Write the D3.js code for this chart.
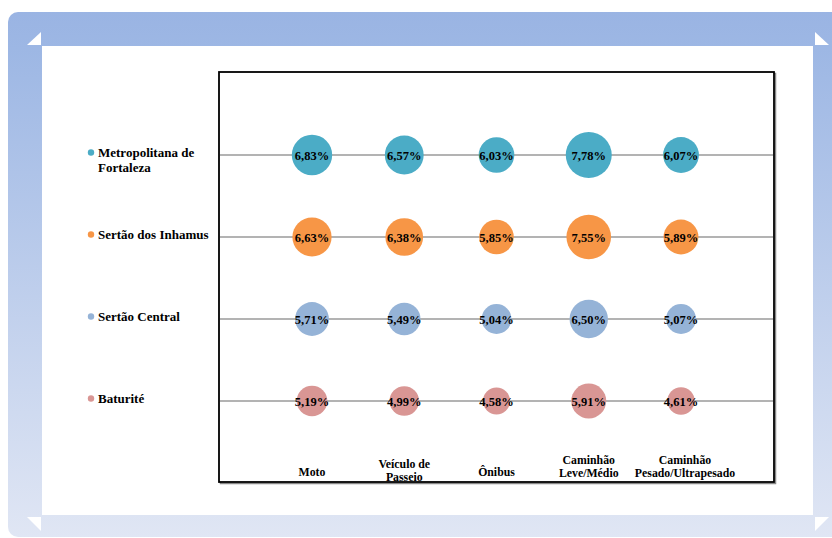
<!DOCTYPE html>
<html><head><meta charset="utf-8">
<script src="https://cdn.jsdelivr.net/npm/d3@7"></script>
<style>body{margin:0;background:#fff;}svg{display:block;} text{font-family:'Liberation Serif','Times New Roman',serif;font-weight:bold;}</style>
</head><body>
<script>
const categories = ["Moto", "Veículo de Passeio", "Ônibus", "Caminhão Leve/Médio", "Caminhão Pesado/Ultrapesado"];
const categoryLines = [["Moto"], ["Veículo de", "Passeio"], ["Ônibus"], ["Caminhão", "Leve/Médio"], ["Caminhão", "Pesado/Ultrapesado"]];
const regions = ["Metropolitana de Fortaleza", "Sertão dos Inhamus", "Sertão Central", "Baturité"];
const regionLines = [["Metropolitana de", "Fortaleza"], ["Sertão dos Inhamus"], ["Sertão Central"], ["Baturité"]];
const colors = ["#4BACC6", "#F79646", "#95B3D7", "#D99694"];
const metropolitana = [6.83, 6.57, 6.03, 7.78, 6.07];
const sertaoInhamus = [6.63, 6.38, 5.85, 7.55, 5.89];
const sertaoCentral = [5.71, 5.49, 5.04, 6.50, 5.07];
const baturite = [5.19, 4.99, 4.58, 5.91, 4.61];
const series = [metropolitana, sertaoInhamus, sertaoCentral, baturite];

const W = 832, H = 538;
const svg = d3.select("body").append("svg").attr("width", W).attr("height", H);
const defs = svg.append("defs");
const g = defs.append("linearGradient").attr("id", "band").attr("x1", 0).attr("y1", 0).attr("x2", 0).attr("y2", 1);
g.append("stop").attr("offset", 0).attr("stop-color", "#9AB4E3");
g.append("stop").attr("offset", 0.07).attr("stop-color", "#9DB7E4");
g.append("stop").attr("offset", 1).attr("stop-color", "#E0E6F4");

svg.append("rect").attr("x", 8).attr("y", 12).attr("width", 850).attr("height", 525).attr("rx", 10).attr("fill", "url(#band)");
svg.append("rect").attr("x", 42).attr("y", 46).attr("width", 771).attr("height", 469).attr("fill", "#fff");
const tris = [
  [[27,45],[41,45],[41,32]],
  [[815,32],[815,45],[829,45]],
  [[27,517],[41,517],[41,531]],
  [[815,517],[829,517],[815,531]]
];
svg.selectAll("polygon.tri").data(tris).enter().append("polygon").attr("class","tri")
  .attr("points", d => d.map(p => p.join(",")).join(" ")).attr("fill", "#fff");

const plot = {left: 219, top: 72, right: 774, bottom: 482};
const x = d3.scalePoint().domain(categories).range([312, 681]);
const y = d3.scalePoint().domain(regions).range([155, 401]);
const r = d3.scaleLinear().domain([0, 7.78]).range([0, 23]);

svg.append("rect").attr("x", plot.left + 1.5).attr("y", plot.top + 1.5).attr("width", plot.right - plot.left).attr("height", plot.bottom - plot.top)
  .attr("fill", "none").attr("stroke", "#888").attr("stroke-width", 1.5);
svg.append("rect").attr("x", plot.left).attr("y", plot.top).attr("width", plot.right - plot.left).attr("height", plot.bottom - plot.top)
  .attr("fill", "#fff").attr("stroke", "#000").attr("stroke-width", 1.8);

svg.selectAll("line.grid").data(regions).enter().append("line").attr("class", "grid")
  .attr("x1", plot.left + 1).attr("x2", plot.right - 1)
  .attr("y1", d => y(d)).attr("y2", d => y(d))
  .attr("stroke", "#9a9a9a").attr("stroke-width", 1.3);

const pts = [];
series.forEach((s, i) => s.forEach((v, j) => pts.push({region: regions[i], cat: categories[j], v, c: colors[i]})));
svg.selectAll("circle.b").data(pts).enter().append("circle").attr("class", "b")
  .attr("cx", d => x(d.cat)).attr("cy", d => y(d.region)).attr("r", d => r(d.v)).attr("fill", d => d.c);
svg.selectAll("text.lbl").data(pts).enter().append("text").attr("class", "lbl")
  .attr("x", d => x(d.cat)).attr("y", d => y(d.region) + 4.5)
  .attr("text-anchor", "middle")
  .style("font-size", "12.5px").attr("fill", "#000")
  .text(d => d.v.toFixed(2).replace(".", ",") + "%");

const leg = svg.selectAll("g.leg").data(regions).enter().append("g").attr("class", "leg");
leg.append("circle").attr("cx", 91).attr("cy", (d) => y(d) - 2.5).attr("r", 3.2).attr("fill", (d, i) => colors[i]);
leg.append("text").attr("x", 98).attr("y", d => y(d) + 1.5)
  .style("font-size", "13px").attr("fill", "#000")
  .each(function(d, i) {
    const t = d3.select(this);
    regionLines[i].forEach((ln, k) => t.append("tspan").attr("x", 98).attr("dy", k === 0 ? 0 : 15).text(ln));
  });

const catY = [476, 468, 476, 464, 464];
const catX = d => x(d) + (d === "Caminhão Pesado/Ultrapesado" ? 4 : 0);
svg.selectAll("text.cat").data(categories).enter().append("text").attr("class", "cat")
  .attr("x", catX).attr("y", (d, i) => catY[i])
  .attr("text-anchor", "middle")
  .style("font-size", "11.8px").attr("fill", "#000")
  .each(function(d, i) {
    const t = d3.select(this);
    categoryLines[i].forEach((ln, k) => t.append("tspan").attr("x", catX(d)).attr("dy", k === 0 ? 0 : 13).text(ln));
  });
</script>
</body></html>
